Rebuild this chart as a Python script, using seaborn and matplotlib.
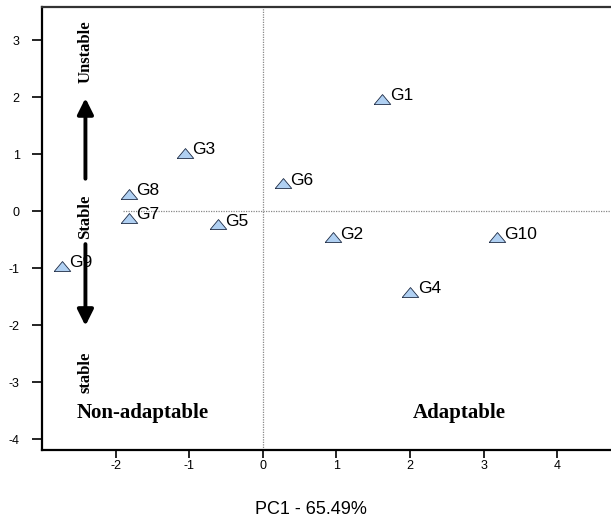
import matplotlib
matplotlib.use("Agg")
import matplotlib.pyplot as plt
import seaborn as sns
import pandas as pd

genotypes = ["G1", "G2", "G3", "G4", "G5", "G6", "G7", "G8", "G9", "G10"]
pc1 = [1.62, 0.95, -1.06, 2.00, -0.61, 0.27, -1.82, -1.82, -2.73, 3.18]
pc2 = [1.97, -0.46, 1.02, -1.42, -0.23, 0.49, -0.12, 0.30, -0.96, -0.46]
xticks = [-2, -1, 0, 1, 2, 3, 4]
yticks = [-4, -3, -2, -1, 0, 1, 2, 3]

sns.set_style("white")
plt.rcParams["font.family"] = ["Liberation Sans", "DejaVu Sans"]
plt.rcParams["text.color"] = "black"
plt.rcParams["xtick.color"] = "black"
plt.rcParams["ytick.color"] = "black"
plt.rcParams["xtick.labelcolor"] = "black"
plt.rcParams["ytick.labelcolor"] = "black"

df = pd.DataFrame({"PC1": pc1, "PC2": pc2, "G": genotypes})

fig = plt.figure(figsize=(6.11, 5.21), dpi=100)
ax = fig.add_axes([42/611, 1-450/521, 1-42/611, (450-7)/521])

tri = [(-1, -0.6), (1, -0.6), (0, 0.6), (-1, -0.6)]
sns.scatterplot(data=df, x="PC1", y="PC2", marker=tri, s=140, color="#b0d0f2",
                edgecolor="#1c2a44", linewidth=0.6, ax=ax, zorder=5, legend=False)

for g, x, y in zip(genotypes, pc1, pc2):
    ax.annotate(g, (x, y), xytext=(5.5, -1), textcoords="offset points",
                ha="left", va="baseline", fontsize=12.5, color="black", zorder=6)

ax.set_xlim(-3.0, 4.73)
ax.set_ylim(-4.19, 3.58)
ax.axvline(0, color="#888888", lw=0.9, ls=(0, (1, 1)), zorder=1)
ax.hlines(0, -1.9, 4.73, color="#888888", lw=0.9, ls=(0, (1, 1)), zorder=1)

ax.set_xticks(xticks)
ax.set_yticks(yticks)
ax.set_xticklabels([str(v) for v in xticks])
ax.set_yticklabels([str(v) for v in yticks])
ax.tick_params(axis="x", direction="out", length=6, width=1.2, pad=1, labelsize=9, bottom=True)
ax.tick_params(axis="y", direction="out", length=7, width=1.2, pad=9, labelsize=9, left=True)
ax.set_xlabel("")
ax.set_ylabel("")

for side in ["left", "bottom"]:
    ax.spines[side].set_color("black")
    ax.spines[side].set_linewidth(1.6)
ax.spines["top"].set_color("#333333")
ax.spines["top"].set_linewidth(1.6)
ax.spines["right"].set_visible(False)

# arrows
ax.annotate("", xy=(-2.41, 2.03), xytext=(-2.41, 0.52),
            arrowprops=dict(arrowstyle="-|>", lw=2.8, color="black", mutation_scale=24))
ax.annotate("", xy=(-2.41, -2.06), xytext=(-2.41, -0.53),
            arrowprops=dict(arrowstyle="-|>", lw=2.8, color="black", mutation_scale=24))

serif = ["Liberation Serif", "DejaVu Serif"]
ax.text(-2.41, 2.79, "Unstable", rotation=90, ha="center", va="center",
        fontsize=12, fontweight="bold", family=serif)
ax.text(-2.41, -0.1, "Stable", rotation=90, ha="center", va="center",
        fontsize=12, fontweight="bold", family=serif)
ax.text(-2.41, -2.82, "stable", rotation=90, ha="center", va="center",
        fontsize=12, fontweight="bold", family=serif)
ax.text(-2.53, -3.54, "Non-adaptable", ha="left", va="center",
        fontsize=15, fontweight="bold", family=serif)
ax.text(2.67, -3.54, "Adaptable", ha="center", va="center",
        fontsize=15, fontweight="bold", family=serif)

fig.text(311/611, 1-510/521, "PC1 - 65.49%", ha="center", va="center", fontsize=13)

fig.savefig("out.png", dpi=100)
